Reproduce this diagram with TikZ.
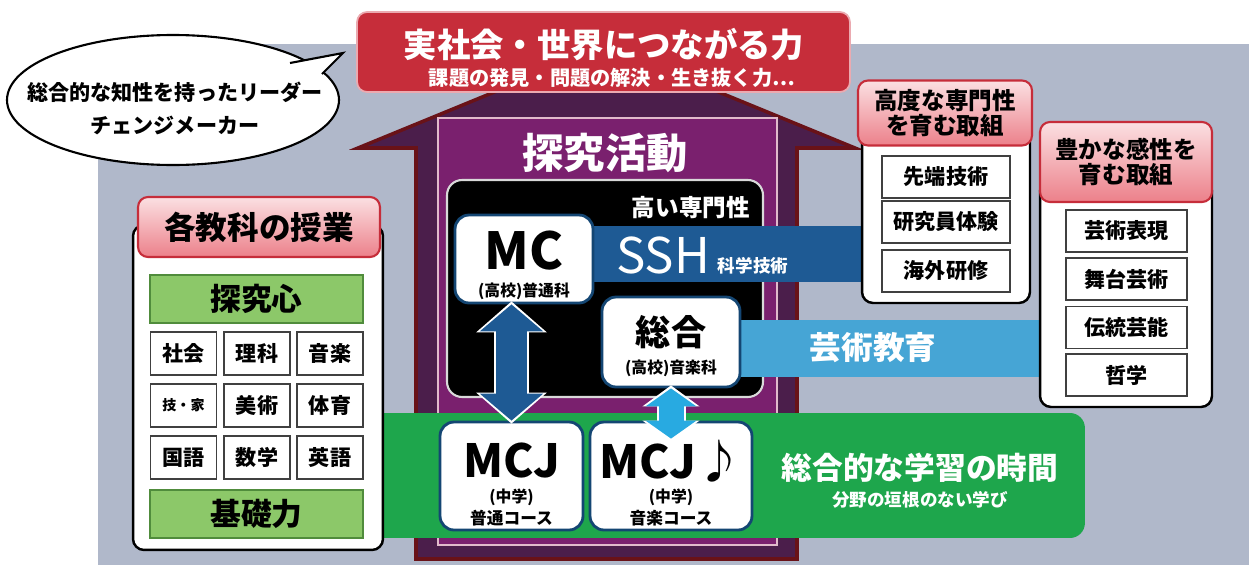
\documentclass[tikz,border=0pt]{standalone}
\usepackage{fontspec}
\setmainfont{Noto Sans CJK JP}
\usetikzlibrary{arrows.meta}
\definecolor{bg_gray}{RGB}{176,184,202}
\definecolor{ban_red}{RGB}{198,45,58}
\definecolor{pk_top}{RGB}{251,224,226}
\definecolor{pk_bot}{RGB}{236,128,138}
\definecolor{lf_green}{RGB}{140,200,105}
\definecolor{lf_dkgreen}{RGB}{80,140,60}
\definecolor{band_green}{RGB}{30,166,76}
\definecolor{ssh_blue}{RGB}{30,90,148}
\definecolor{art_blue}{RGB}{70,165,213}
\definecolor{arr_blue}{RGB}{40,170,225}
\definecolor{box_blue}{RGB}{20,70,115}
\definecolor{pur_in}{RGB}{122,32,110}
\definecolor{pur_dk}{RGB}{75,30,75}
\definecolor{pur_line}{RGB}{105,18,24}
\tikzstyle{panel}=[rectangle,rounded corners=0.22cm,fill=white,draw=black,
  line width=1.4pt,inner sep=0pt]
\tikzstyle{hdr}=[rectangle,rounded corners=0.2cm,top color=pk_top,bottom color=pk_bot,
  draw=ban_red,line width=1.2pt,inner sep=0pt,align=center,
  font=\bfseries\fontsize{13.4}{14.4}\selectfont]
\tikzstyle{item}=[rectangle,fill=white,draw=black!75,line width=1pt,inner sep=0pt,
  minimum height=0.84cm,font=\bfseries\fontsize{12}{14}\selectfont]
\tikzstyle{subj}=[item,minimum width=1.32cm,minimum height=0.86cm]
\tikzstyle{gbar}=[rectangle,fill=lf_green,draw=lf_dkgreen,line width=0.6pt,
  minimum width=4.26cm,minimum height=0.96cm,inner sep=0pt,
  font=\bfseries\fontsize{17.5}{20}\selectfont]
\tikzstyle{course}=[rectangle,rounded corners=0.28cm,fill=white,draw=box_blue,
  line width=1.6pt,inner sep=0pt]
\tikzstyle{wtxt}=[inner sep=0pt,text=white,font=\bfseries]
\tikzstyle{btxt}=[inner sep=0pt,text=black,font=\bfseries]

\begin{document}
\begin{tikzpicture}[x=0.02cm,y=-0.02cm]
    \useasboundingbox (0,0) rectangle (1249,565);
    \fill[bg_gray] (98,44) rectangle (1249,565);
    \draw[fill=pur_dk,draw=pur_line,line width=2pt] (416,559) -- (416,148) -- (358,148)
      -- (606.5,46) -- (855,148) -- (797,148) -- (797,559) -- cycle;
    \draw[fill=pur_in,draw=pk_top!80!pur_in,line width=0.6pt] (438,118) rectangle (777,545);
    \node [draw=pk_top!70!ban_red,fill=ban_red,rounded corners=0.2cm,line width=1pt,
      minimum width=9.86cm,minimum height=1.6cm] (ban) at (603.5,52) {};
    \node [style=wtxt,font=\bfseries\fontsize{19}{21}\selectfont] (bant) at (604,45) {実社会・世界につながる力};
    \node [style=wtxt,font=\bfseries\fontsize{11.5}{13}\selectfont] (bans) at (612,78) {課題の発見・問題の解決・生き抜く力…};
    \draw[fill=white,line width=1.2pt] (173,100) ellipse [x radius=166,y radius=65];
    \fill[white] (292,62) -- (343,53) -- (322,74) -- cycle;
    \draw[line width=1.2pt] (290,63) -- (343,53) -- (322,74);
    \node [style=btxt,font=\bfseries\fontsize{12}{14}\selectfont] (bub1) at (175,92) {総合的な知性を持ったリーダー};
    \node [style=btxt,font=\bfseries\fontsize{12}{14}\selectfont] (bub2) at (175,125) {チェンジメーカー};
    \node [style=wtxt,font=\bfseries\fontsize{23.5}{26}\selectfont] (tq) at (605,153) {探究活動};
    \node [fill=black,draw=white!85!black,line width=1.2pt,rounded corners=0.3cm,
      minimum width=6.32cm,minimum height=4.34cm] (core) at (605,288.5) {};
    \node [style=wtxt,anchor=east,font=\bfseries\fontsize{13.4}{15}\selectfont] (senmon) at (750,208) {高い専門性};
    \node [fill=ssh_blue,minimum width=5.7cm,minimum height=1.12cm] (ssh) at (727.5,254) {};
    \node [fill=art_blue,minimum width=6.2cm,minimum height=1.14cm] (art) at (890,348.5) {};
    \node [style=wtxt,font=\fontsize{28}{30}\selectfont] (sshl) at (663,255) {SSH};
    \node [style=wtxt,font=\bfseries\fontsize{10}{12}\selectfont] (sshs) at (753,266) {科学技術};
    \node [style=wtxt,font=\bfseries\fontsize{18}{20}\selectfont] (artl) at (873,348) {芸術教育};
    \node [fill=band_green,rounded corners=0.3cm,minimum width=14.3cm,minimum height=2.5cm] (band) at (727.5,475.5) {};
    \node [style=wtxt,font=\bfseries\fontsize{17.5}{20}\selectfont] (bandl) at (920,468) {総合的な学習の時間};
    \node [style=wtxt,font=\bfseries\fontsize{10}{12}\selectfont] (bands) at (920,500) {分野の垣根のない学び};

    \node [style=panel,minimum width=5cm,minimum height=6.5cm] (lpan) at (258,387.5) {};
    \node [style=hdr,minimum width=4.84cm,minimum height=1.2cm,
      font=\bfseries\fontsize{18}{20}\selectfont] (lhdr) at (259,227) {各教科の授業};
    \node [style=gbar] (tanq) at (256.5,299) {探究心};
    \node [style=subj] (s11) at (183.5,353.5) {社会};
    \node [style=subj] (s12) at (257,353.5) {理科};
    \node [style=subj] (s13) at (330,353.5) {音楽};
    \node [style=subj,font=\bfseries\fontsize{8}{10}\selectfont] (s21) at (183.5,405.5) {技・家};
    \node [style=subj] (s22) at (257,405.5) {美術};
    \node [style=subj] (s23) at (330,405.5) {体育};
    \node [style=subj] (s31) at (183.5,457.5) {国語};
    \node [style=subj] (s32) at (257,457.5) {数学};
    \node [style=subj] (s33) at (330,457.5) {英語};
    \node [style=gbar] (kiso) at (256.5,514) {基礎力};

    \node [style=panel,minimum width=3.36cm,minimum height=3.46cm] (rpan1) at (946,216.5) {};
    \node [style=hdr,minimum width=3.48cm,minimum height=1.3cm] (rhdr1) at (945,113) {高度な専門性\\を育む取組};
    \node [style=item,minimum width=2.56cm] (r11) at (946,177) {先端技術};
    \node [style=item,minimum width=2.56cm] (r12) at (946,222) {研究員体験};
    \node [style=item,minimum width=2.56cm] (r13) at (946,271) {海外研修};
    \node [style=panel,minimum width=3.44cm,minimum height=4.54cm] (rpan2) at (1126,293.5) {};
    \node [style=hdr,minimum width=3.44cm,minimum height=1.6cm] (rhdr2) at (1126,162) {豊かな感性を\\育む取組};
    \node [style=item,minimum width=2.42cm] (r21) at (1126.5,231) {芸術表現};
    \node [style=item,minimum width=2.42cm] (r22) at (1126.5,279) {舞台芸術};
    \node [style=item,minimum width=2.42cm] (r23) at (1126.5,327.5) {伝統芸能};
    \node [style=item,minimum width=2.42cm] (r24) at (1126.5,375) {哲学};

    \node [style=course,minimum width=2.76cm,minimum height=1.76cm] (mc) at (524,259) {};
    \node [style=btxt,font=\bfseries\fontsize{29}{31}\selectfont] (mcl) at (524,251) {MC};
    \node [style=btxt,font=\bfseries\fontsize{9}{11}\selectfont] (mcs) at (524,291) {(高校)普通科};
    \node [style=course,minimum width=2.76cm,minimum height=1.8cm] (sogo) at (671,342) {};
    \node [style=btxt,font=\bfseries\fontsize{20}{22}\selectfont] (sogol) at (671,332) {総合};
    \node [style=btxt,font=\bfseries\fontsize{9}{11}\selectfont] (sogos) at (671,368) {(高校)音楽科};
    \node [style=course,minimum width=2.86cm,minimum height=2.16cm] (mcj) at (511.5,476) {};
    \node [style=btxt,font=\bfseries\fontsize{26}{28}\selectfont] (mcjl) at (511.5,461) {MCJ};
    \node [style=btxt,font=\bfseries\fontsize{9}{11}\selectfont] (mcjs) at (511.5,497) {(中学)};
    \node [style=btxt,font=\bfseries\fontsize{9.5}{11}\selectfont] (mcjt) at (511.5,518) {普通コース};
    \node [style=course,minimum width=3.24cm,minimum height=2.16cm] (mcjm) at (671,476) {};
    \node [style=btxt,font=\bfseries\fontsize{26}{28}\selectfont] (mcjml) at (671,461) {MCJ♪};
    \node [style=btxt,font=\bfseries\fontsize{9}{11}\selectfont] (mcjms) at (671,497) {(中学)};
    \node [style=btxt,font=\bfseries\fontsize{9.5}{11}\selectfont] (mcjmt) at (671,518) {音楽コース};

    \draw[white,line width=0.72cm,shorten <=-0.06cm,shorten >=-0.06cm,
      {Triangle[width=1.38cm,length=0.62cm]}-{Triangle[width=1.38cm,length=0.62cm]}]
      (mcj.north |- mc.south) to (mcj.north);
    \draw[ssh_blue,line width=0.64cm,
      {Triangle[width=1.24cm,length=0.54cm]}-{Triangle[width=1.24cm,length=0.54cm]}]
      (mcj.north |- mc.south) to (mcj.north);
    \draw[white,line width=0.58cm,shorten <=-0.06cm,shorten >=-0.06cm,
      {Triangle[width=1.12cm,length=0.42cm]}-{Triangle[width=1.12cm,length=0.42cm]}]
      (sogo.south) to ([yshift=-0.36cm]mcjm.north);
    \draw[arr_blue,line width=0.5cm,
      {Triangle[width=1cm,length=0.36cm]}-{Triangle[width=1cm,length=0.36cm]}]
      (sogo.south) to ([yshift=-0.36cm]mcjm.north);
\end{tikzpicture}
\end{document}
